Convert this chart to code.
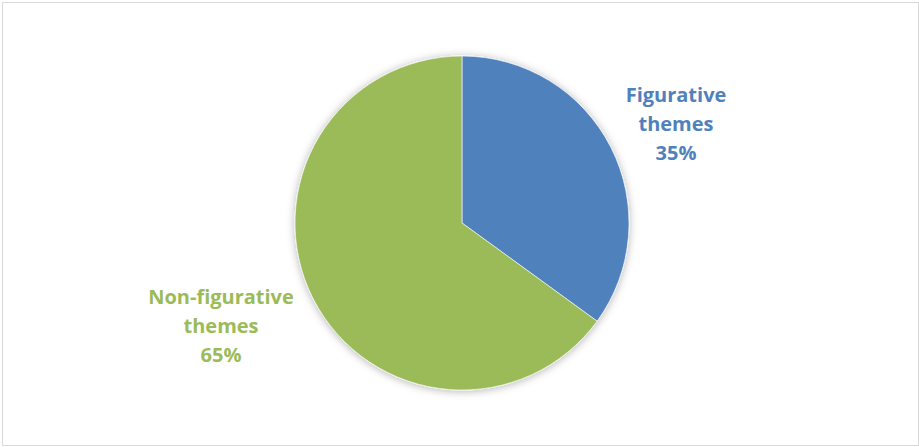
<!DOCTYPE html>
<html>
<head>
<meta charset="utf-8">
<script src="https://cdn.jsdelivr.net/npm/d3@7"></script>
<style>
  body { margin: 0; background: #fff; }
  svg { display: block; }
</style>
</head>
<body>
<div id="chart"></div>
<script>
// chart data
const categories = ['Figurative themes', 'Non-figurative themes']
const values = [35, 65]
const colors = ['#4F81BD', '#9BBB59']

const width = 919
const height = 447
const cx = 462
const cy = 223
const radius = 167

const svg = d3
  .select('#chart')
  .append('svg')
  .attr('width', width)
  .attr('height', height)

// soft shadow around the pie
const defs = svg.append('defs')
const filter = defs
  .append('filter')
  .attr('id', 'shadow')
  .attr('x', '-20%')
  .attr('y', '-20%')
  .attr('width', '140%')
  .attr('height', '140%')
filter
  .append('feDropShadow')
  .attr('dx', 0)
  .attr('dy', 1)
  .attr('stdDeviation', 4)
  .attr('flood-color', '#000')
  .attr('flood-opacity', 0.3)

// chart frame
svg
  .append('rect')
  .attr('x', 2.5)
  .attr('y', 2.5)
  .attr('width', width - 3)
  .attr('height', height - 4)
  .attr('fill', 'none')
  .attr('stroke', '#d9d9d9')
  .attr('stroke-width', 1)

const data = categories.map((c, i) => ({ label: c, value: values[i] }))

const pie = d3
  .pie()
  .sort(null)
  .value(d => d.value)

const arc = d3
  .arc()
  .innerRadius(0)
  .outerRadius(radius)

const g = svg
  .append('g')
  .attr('transform', 'translate(' + cx + ',' + cy + ')')

g.append('g')
  .attr('filter', 'url(#shadow)')
  .selectAll('path')
  .data(pie(data))
  .enter()
  .append('path')
  .attr('d', arc)
  .attr('fill', (d, i) => colors[i])
  .attr('stroke', '#fff')
  .attr('stroke-width', 0.6)

// labels: [x offset, first baseline offset] relative to centre
const labelPos = [
  [214, -121],
  [-241, 81]
]
const lineGap = 29

pie(data).forEach((d, i) => {
  const words = d.data.label.split(' ')
  const lines = [words[0], words.slice(1).join(' '), d.data.value + '%']
  const t = g
    .append('text')
    .attr('text-anchor', 'middle')
    .attr('font-family', '"Open Sans", sans-serif')
    .attr('font-weight', 'bold')
    .attr('font-size', 20)
    .attr('fill', colors[i])
  lines.forEach((l, j) => {
    t.append('tspan')
      .attr('x', labelPos[i][0])
      .attr('y', labelPos[i][1] + j * lineGap)
      .text(l)
  })
})
</script>
</body>
</html>
